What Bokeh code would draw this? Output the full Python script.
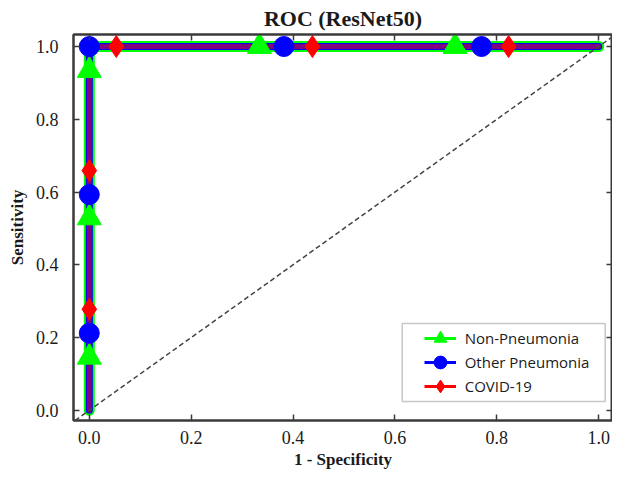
from bokeh.plotting import figure
from bokeh.models import (Range1d, LinearAxis, FixedTicker, PrintfTickFormatter, Legend,
                          LegendItem, ColumnDataSource, Slope, BoxAnnotation)
from bokeh.embed import file_html
from bokeh.resources import INLINE

# ---------------- data ----------------
title_text = "ROC (ResNet50)"
x_label = "1 - Specificity"
y_label = "Sensitivity"
tick_values = [0.0, 0.2, 0.4, 0.6, 0.8, 1.0]

classes = ["Non-Pneumonia", "Other Pneumonia", "COVID-19"]
colors = ["#00ff00", "#0000ff", "#ff0000"]
markers = ["triangle", "circle", "diamond"]

# ROC curves (1 - specificity, sensitivity)
non_pneumonia_fpr = [0.0, 0.0, 1.0]
non_pneumonia_tpr = [0.0, 1.0, 1.0]
other_pneumonia_fpr = [0.0, 0.0, 1.0]
other_pneumonia_tpr = [0.0, 1.0, 1.0]
covid_fpr = [0.0, 0.0, 1.0]
covid_tpr = [0.0, 1.0, 1.0]

# marker points on the curves
non_pneumonia_mark_fpr = [0.0, 0.0, 0.0, 0.334, 0.718]
non_pneumonia_mark_tpr = [0.146, 0.529, 0.934, 1.0, 1.0]
other_pneumonia_mark_fpr = [0.0, 0.0, 0.0, 0.382, 0.770]
other_pneumonia_mark_tpr = [0.212, 0.593, 1.0, 1.0, 1.0]
covid_mark_fpr = [0.0, 0.0, 0.053, 0.438, 0.823]
covid_mark_tpr = [0.278, 0.659, 1.0, 1.0, 1.0]

# chance line y = x
chance_gradient = 1.0
chance_intercept = 0.0

# ---------------- figure ----------------
AX = "#3a3a3a"
p = figure(width=612, height=471, output_backend="svg", toolbar_location=None,
           x_range=Range1d(-0.031, 1.027), y_range=Range1d(-0.028, 1.033),
           title=title_text, x_axis_label=x_label, y_axis_label=y_label,
           min_border_left=73, min_border_right=0, min_border_top=0, min_border_bottom=0,
           background_fill_color="white", border_fill_color="white")
p.grid.visible = False
p.outline_line_color = AX
p.outline_line_width = 2

p.title.text_font = "Liberation Serif"
p.title.text_font_size = "22px"
p.title.text_font_style = "bold"
p.title.text_color = "#1a1a1a"
p.title.align = "center"
p.title.standoff = 7

ticker = FixedTicker(ticks=tick_values)
fmt = PrintfTickFormatter(format="%.1f")

def style_axis(ax, show_labels=True):
    ax.ticker = ticker
    ax.formatter = fmt
    ax.axis_line_color = AX
    ax.axis_line_width = 2
    ax.major_tick_line_color = AX
    ax.major_tick_line_width = 1.5
    ax.major_tick_in = 6
    ax.major_tick_out = 0
    ax.minor_tick_line_color = None
    if show_labels:
        ax.major_label_text_font = "Liberation Serif"
        ax.major_label_text_font_size = "18px"
        ax.major_label_text_color = "#1a1a1a"
        ax.axis_label_text_font = "Liberation Serif"
        ax.axis_label_text_font_size = "17px"
        ax.axis_label_text_font_style = "bold"
        ax.axis_label_text_color = "#1a1a1a"
    else:
        ax.major_label_text_font_size = "1px"
        ax.major_label_text_color = None
        ax.major_label_standoff = 0

style_axis(p.xaxis[0])
style_axis(p.yaxis[0])
p.xaxis[0].major_label_standoff = 10
p.xaxis[0].axis_label_standoff = 3
p.yaxis[0].major_label_standoff = 15
p.yaxis[0].axis_label_standoff = 6

top_axis = LinearAxis()
right_axis = LinearAxis()
style_axis(top_axis, show_labels=False)
style_axis(right_axis, show_labels=False)
p.add_layout(top_axis, "above")
p.add_layout(right_axis, "right")

# chance line
p.add_layout(Slope(gradient=chance_gradient, y_intercept=chance_intercept,
                   line_color="#444444", line_width=1.5, line_dash="5 3"))

# curves
p.line(non_pneumonia_fpr, non_pneumonia_tpr, line_color=colors[0], line_width=11,
       line_cap="round", line_join="round")
p.line(other_pneumonia_fpr, other_pneumonia_tpr, line_color=colors[1], line_width=7,
       line_cap="round", line_join="round")
p.line(covid_fpr, covid_tpr, line_color=colors[2], line_alpha=0.5, line_width=5,
       line_cap="round", line_join="round")

# markers
p.scatter(non_pneumonia_mark_fpr, non_pneumonia_mark_tpr, marker=markers[0], size=24,
          fill_color=colors[0], line_color=colors[0])
p.scatter(other_pneumonia_mark_fpr, other_pneumonia_mark_tpr, marker=markers[1], size=20,
          fill_color=colors[1], line_color=colors[1])
p.scatter(covid_mark_fpr, covid_mark_tpr, marker=markers[2], size=22,
          fill_color=colors[2], line_color=colors[2])

# legend: one small legend per row (thin line + small marker glyphs)
nan = float("nan")
row_step = 24
for i, (cls, col, mk) in enumerate(zip(classes, colors, markers)):
    src = ColumnDataSource(data=dict(x=[nan], y=[nan]))
    lr = p.line("x", "y", source=src, line_color=col, line_width=3)
    mr = p.scatter("x", "y", source=src, marker=mk, size=12, fill_color=col, line_color=col)
    leg = Legend(items=[LegendItem(label=cls, renderers=[lr, mr])],
                 location=(350.7, 65 - i * row_step), orientation="vertical",
                 padding=0, margin=0, spacing=0, glyph_width=32, glyph_height=34,
                 label_standoff=9, label_text_font="Open Sans", label_text_font_size="15px",
                 label_text_color="#1a1a1a", border_line_alpha=0, background_fill_alpha=0)
    p.add_layout(leg)

p.add_layout(BoxAnnotation(left=328.7, right=531.7, bottom=19, top=97,
                           left_units="screen", right_units="screen",
                           bottom_units="screen", top_units="screen",
                           fill_alpha=0, line_color="#444444", line_width=1.5))

open("out.html", "w").write(file_html(p, INLINE))
